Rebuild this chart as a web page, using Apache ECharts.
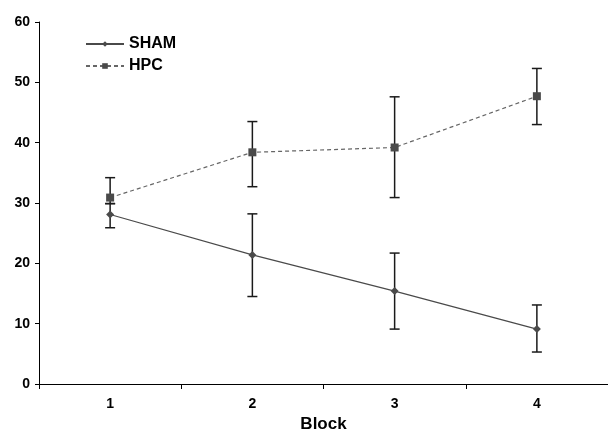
<!DOCTYPE html>
<html>
<head>
<meta charset="utf-8">
<script src="https://cdn.jsdelivr.net/npm/echarts@6/dist/echarts.min.js"></script>
<style>html,body{margin:0;padding:0;background:#fff;}#c{width:608px;height:437px;}</style>
</head>
<body>
<div id="c"></div>
<script>
const categories = ['1', '2', '3', '4'];
const shamMean = [28.1, 21.4, 15.4, 9.1];
const shamLow = [25.9, 14.5, 9.1, 5.3];
const shamHigh = [29.9, 28.2, 21.7, 13.1];
const hpcMean = [30.9, 38.4, 39.2, 47.7];
const hpcLow = [29.9, 32.7, 30.9, 43.0];
const hpcHigh = [34.2, 43.5, 47.6, 52.3];

const chart = echarts.init(document.getElementById('c'));
function errData(low, high) {
  return categories.map((c, i) => [i, low[i], high[i]]);
}
function errRender(params, api) {
  const x = api.value(0);
  const lo = api.coord([x, api.value(1)]);
  const hi = api.coord([x, api.value(2)]);
  const hw = 5;
  const st = { stroke: '#1a1a1a', lineWidth: 1.5 };
  return {
    type: 'group',
    children: [
      { type: 'line', shape: { x1: lo[0], y1: lo[1], x2: hi[0], y2: hi[1] }, style: st },
      { type: 'line', shape: { x1: lo[0] - hw, y1: lo[1], x2: lo[0] + hw, y2: lo[1] }, style: st },
      { type: 'line', shape: { x1: hi[0] - hw, y1: hi[1], x2: hi[0] + hw, y2: hi[1] }, style: st }
    ]
  };
}
const font = 'Liberation Sans, Arial, sans-serif';
chart.setOption({
  animation: false,
  backgroundColor: '#fff',
  grid: { left: 39, right: 0, top: 22, bottom: 53, containLabel: false, outerBoundsMode: 'none' },
  legend: {
    orient: 'vertical', left: 80, top: 31, itemWidth: 38, itemHeight: 7, itemGap: 6,
    textStyle: { fontFamily: font, fontWeight: 'bold', fontSize: 16, lineHeight: 16, color: '#000' },
    data: ['SHAM', 'HPC']
  },
  xAxis: {
    type: 'category', data: categories, boundaryGap: true,
    name: 'Block', nameLocation: 'middle', nameGap: 30,
    nameTextStyle: { fontFamily: font, fontWeight: 'bold', fontSize: 17, color: '#000' },
    axisLine: { lineStyle: { color: '#000', width: 1 } },
    axisTick: { show: true, length: 5, inside: false, lineStyle: { color: '#000' } },
    axisLabel: { fontFamily: font, fontWeight: 'bold', fontSize: 14, color: '#000', margin: 13 }
  },
  yAxis: {
    type: 'value', min: 0, max: 60, interval: 10,
    splitLine: { show: false },
    axisLine: { show: true, lineStyle: { color: '#000', width: 1 } },
    axisTick: { show: true, length: 4, lineStyle: { color: '#000' } },
    axisLabel: { fontFamily: font, fontWeight: 'bold', fontSize: 14, color: '#000', margin: 9 }
  },
  series: [
    { name: 'SHAM', type: 'line', data: shamMean, symbol: 'diamond', symbolSize: 8,
      itemStyle: { color: '#4a4a4a' }, lineStyle: { color: '#4a4a4a', width: 1.2, type: 'solid' }, z: 3 },
    { name: 'HPC', type: 'line', data: hpcMean, symbol: 'rect', symbolSize: 8,
      itemStyle: { color: '#4a4a4a' }, lineStyle: { color: '#666', width: 1.2, type: [4, 3] }, z: 3 },
    { type: 'custom', data: errData(shamLow, shamHigh), renderItem: errRender, z: 2 },
    { type: 'custom', data: errData(hpcLow, hpcHigh), renderItem: errRender, z: 2 }
  ]
});
</script>
</body>
</html>
